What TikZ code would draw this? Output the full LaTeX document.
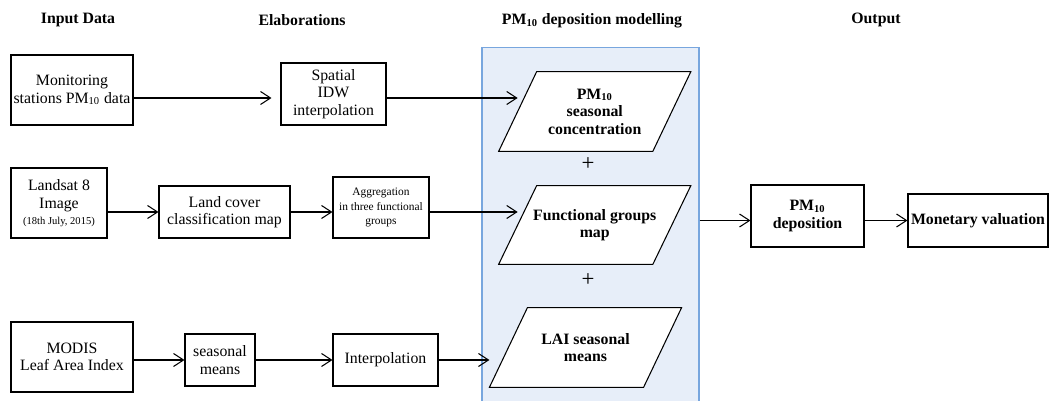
\documentclass[tikz,border=0pt]{standalone}
\usepackage{fontspec}
\setmainfont{Liberation Serif}
\usepackage{xcolor}
\usepackage{tikz}
\usetikzlibrary{calc, positioning, arrows.meta, backgrounds}
\definecolor{modelblue}{RGB}{231,238,249}
\definecolor{modeledge}{RGB}{120,166,222}
\tikzset{
    box/.style={rectangle, draw=black, line width=0.6pt, fill=white, align=center, inner sep=1pt, font=\fontsize{9}{10}\selectfont},
    outbox/.style={box, font=\fontsize{9}{10}\selectfont\bfseries},
    para/.style={rectangle, align=center, minimum width=3.07cm, minimum height=1.58cm, inner sep=0pt, font=\fontsize{9}{10}\selectfont\bfseries},
    paraline/.style={draw=black, line width=0.6pt, fill=white},
    head/.style={font=\fontsize{9}{10}\selectfont\bfseries},
    plus/.style={font=\fontsize{13}{13}\selectfont, inner sep=0pt},
    model/.style={rectangle, draw=modeledge, line width=0.6pt, fill=modelblue},
    arrow/.style={-{Straight Barb[length=0.2cm, width=0.26cm]}, line width=0.6pt}
}

\begin{document}
\begin{tikzpicture}[x=0.02cm, y=-0.02cm]
        \useasboundingbox (0,0) rectangle (1049,401);

        % Headings
        \node[head] (hInput) at (78,20) {Input Data};
        \node[head] (hElab) at (302,20) {Elaborations};
        \node[head] (hModel) at (592,21) {PM\textsubscript{10} deposition modelling};
        \node[head] (hOut) at (876,20) {Output};

        % Inputs
        \node[box, minimum width=2.44cm, minimum height=1.4cm] (Mon) at (72,90) {Monitoring\\stations PM\textsubscript{10} data};
        \node[box, minimum width=1.92cm, minimum height=1.4cm] (Landsat) at (59,203) {Landsat 8\\Image\\[-1pt]{\fontsize{6}{7}\selectfont (18th July, 2015)}};
        \node[box, minimum width=2.44cm, minimum height=1.4cm] (Modis) at (72,357) {MODIS\\Leaf Area Index};

        % Elaborations
        \node[box, minimum width=2.1cm, minimum height=1.24cm] (Spatial) at (333.5,94) {Spatial\\IDW\\interpolation};
        \node[box, minimum width=2.62cm, minimum height=1.04cm] (Cover) at (224.5,212) {Land cover\\classification map};
        \node[box, minimum width=1.92cm, minimum height=1.22cm, font=\fontsize{6.5}{8.5}\selectfont] (Aggr) at (381,207.5) {Aggregation\\in three functional\\groups};
        \node[box, minimum width=1.4cm, minimum height=1.04cm] (Means) at (220,360) {seasonal\\means};
        \node[box, minimum width=2.1cm, minimum height=1.04cm] (Interp) at (385.5,360) {Interpolation};

        % Modelling
        \node[para] (Conc) at (594.75,111.5) {PM\textsubscript{10}\\seasonal\\concentration};
        \node[plus] (plus1) at (588,164) {+};
        \node[para, minimum height=1.56cm] (Groups) at (594.75,225) {Functional groups\\map};
        \node[plus] (plus2) at (588,280) {+};
        \node[para] (Lai) at (585.5,347.5) {LAI seasonal\\means};

        \begin{scope}[on background layer]
            \node[model, minimum width=4.34cm, minimum height=7.46cm] (Model) at (590.5,233.5) {};
            \foreach \p in {Conc, Groups, Lai}
                \draw[paraline] ([xshift=0.38cm]\p.north west) -- ([xshift=0.38cm]\p.north east)
                    -- ([xshift=-0.38cm]\p.south east) -- ([xshift=-0.38cm]\p.south west) -- cycle;
        \end{scope}

        % Output
        \node[outbox, minimum width=2.26cm, minimum height=1.24cm] (Dep) at (807.5,216) {PM\textsubscript{10}\\deposition};
        \node[outbox, minimum width=2.8cm, minimum height=1.06cm] (Money) at (978,220.5) {Monetary valuation};

        % Connections
        \draw[arrow, shorten >=0.18cm] ([yshift=-0.16cm]Mon.east) -- ([yshift=-0.16cm]Mon.east -| Spatial.west);
        \draw[arrow] ([yshift=-0.08cm]Spatial.east) -- ([yshift=-0.08cm]Spatial.east -| Conc.west);
        \draw[arrow] (Landsat.east |- Cover) -- (Cover);
        \draw[arrow] (Cover) -- (Cover -| Aggr.west);
        \draw[arrow] (Aggr.east |- Cover) -- (Cover -| Groups.west);
        \draw[arrow] (Modis.east |- Means) -- (Means);
        \draw[arrow] (Means) -- (Interp);
        \draw[arrow, shorten >=0.38cm] (Interp) -- (Interp -| Lai.west);

        \draw[arrow] (Model.east |- Money) -- (Money -| Dep.west);
        \draw[arrow] (Dep.east |- Money) -- (Money);

    \end{tikzpicture}
\end{document}
